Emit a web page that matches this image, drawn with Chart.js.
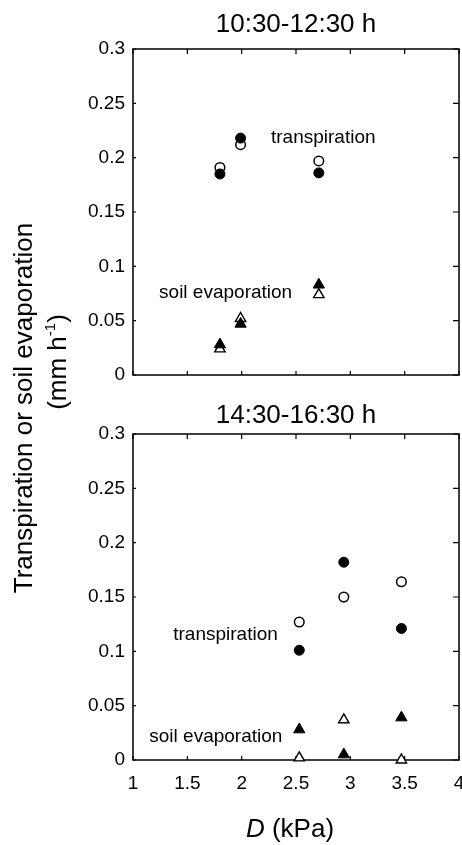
<!DOCTYPE html>
<html>
<head>
<meta charset="utf-8">
<script src="https://cdn.jsdelivr.net/npm/chart.js@4.4.0/dist/chart.umd.min.js"></script>
<style>
  body { margin: 0; background: #fff; overflow: hidden; }
  #page {
    position: relative;
    width: 462px;
    height: 845px;
    overflow: hidden;
    font-family: "Liberation Sans", Arial, sans-serif;
    color: #000;
  }
  .panel { position: absolute; left: 0; }
  .label {
    position: absolute;
    font-size: 26px;
    line-height: 1;
    white-space: nowrap;
    transform: translate(-50%, -50%);
  }
  .rot { transform: translate(-50%, -50%) rotate(-90deg); }
  sup { font-size: 15px; vertical-align: 11px; line-height: 0; }
</style>
</head>
<body>
<div id="page">
  <div class="panel" style="top: 0;"><canvas id="amChart" width="480" height="400"></canvas></div>
  <div class="panel" style="top: 400px;"><canvas id="pmChart" width="480" height="445"></canvas></div>
  <div class="label rot" style="left: 23px; top: 408px;">Transpiration or soil evaporation</div>
  <div class="label rot" style="left: 57px; top: 362px;">(mm h<sup>-1</sup>)</div>
  <div class="label" style="left: 290px; top: 828px;"><i>D</i> (kPa)</div>
</div>
<script>
// vapour pressure deficit D (kPa) of each measurement
const amD = [1.80, 1.99, 2.71];
const pmD = [2.53, 2.94, 3.47];

// 10:30-12:30 h
const amTranspFilled = [0.185, 0.218, 0.186];
const amTranspOpen = [0.191, 0.212, 0.197];
const amEvapFilled = [0.028, 0.047, 0.083];
const amEvapOpen = [0.024, 0.052, 0.074];

// 14:30-16:30 h
const pmTranspFilled = [0.101, 0.182, 0.121];
const pmTranspOpen = [0.127, 0.150, 0.164];
const pmEvapFilled = [0.028, 0.005, 0.039];
const pmEvapOpen = [0.002, 0.037, 0.000];

const xTicks = [1, 1.5, 2, 2.5, 3, 3.5, 4];
const yTicks = [0, 0.05, 0.1, 0.15, 0.2, 0.25, 0.3];

const FONT = "'Liberation Sans', Arial, sans-serif";

// box round the plot area with small inward tick marks
const frameTicks = {
  id: "frameTicks",
  beforeDatasetsDraw(chart) {
    const { ctx, chartArea: a, scales } = chart;
    ctx.save();
    ctx.strokeStyle = "#000";
    ctx.lineWidth = 1.5;
    ctx.strokeRect(a.left, a.top, a.right - a.left, a.bottom - a.top);
    ctx.lineWidth = 1.2;
    ctx.beginPath();
    xTicks.forEach((v) => {
      const px = scales.x.getPixelForValue(v);
      ctx.moveTo(px, a.bottom);
      ctx.lineTo(px, a.bottom - 4);
      ctx.moveTo(px, a.top);
      ctx.lineTo(px, a.top + 5);
    });
    yTicks.forEach((v) => {
      const py = scales.y.getPixelForValue(v);
      ctx.moveTo(a.left, py);
      ctx.lineTo(a.left + 3, py);
      ctx.moveTo(a.right, py);
      ctx.lineTo(a.right - 6, py);
    });
    ctx.stroke();
    ctx.restore();
  },
};

// "transpiration" / "soil evaporation" notes inside the plot
const notes = {
  id: "notes",
  afterDatasetsDraw(chart, args, opts) {
    const { ctx, scales } = chart;
    ctx.save();
    ctx.fillStyle = "#000";
    ctx.font = "19px " + FONT;
    ctx.textAlign = "left";
    ctx.textBaseline = "middle";
    (opts.items || []).forEach((n) => {
      ctx.fillText(n.text, scales.x.getPixelForValue(n.x), scales.y.getPixelForValue(n.y));
    });
    ctx.restore();
  },
};

function makeSets(D, tFilled, tOpen, eFilled, eOpen) {
  const pts = (ys) => D.map((x, i) => ({ x: x, y: ys[i] }));
  return [
    { data: pts(tFilled), pointStyle: "circle", pointRadius: 5, pointBackgroundColor: "#000", pointBorderColor: "#000", pointBorderWidth: 1 },
    { data: pts(eFilled), pointStyle: "triangle", pointRadius: 6.5, pointBackgroundColor: "#000", pointBorderColor: "#000", pointBorderWidth: 1 },
    { data: pts(tOpen), pointStyle: "circle", pointRadius: 4.8, pointBackgroundColor: "#fff", pointBorderColor: "#000", pointBorderWidth: 1.5 },
    { data: pts(eOpen), pointStyle: "triangle", pointRadius: 6, pointBackgroundColor: "#fff", pointBorderColor: "#000", pointBorderWidth: 1.4 },
  ].map((ds) => Object.assign(ds, { showLine: false, clip: false }));
}

function makeChart(id, title, titlePad, datasets, noteItems, showX, bottomPad) {
  const ctx = document.getElementById(id).getContext("2d");
  return new Chart(ctx, {
    type: "scatter",
    data: { datasets: datasets },
    options: {
      responsive: false,
      devicePixelRatio: 1,
      animation: false,
      events: [],
      layout: { padding: { left: 0, right: 21, top: 0, bottom: bottomPad } },
      plugins: {
        legend: { display: false },
        tooltip: { enabled: false },
        title: {
          display: true,
          text: title,
          color: "#000",
          fullSize: false,
          font: { family: FONT, size: 26, weight: "normal" },
          padding: titlePad,
        },
        notes: { items: noteItems },
      },
      scales: {
        x: {
          type: "linear",
          min: 1,
          max: 4,
          afterBuildTicks: (s) => { s.ticks = xTicks.map((v) => ({ value: v })); },
          afterFit: (s) => { if (showX) s.height = 85; },
          grid: { display: false, drawTicks: false },
          border: { display: false },
          ticks: {
            display: showX,
            color: "#000",
            padding: 12,
            maxRotation: 0,
            font: { family: FONT, size: 19 },
            callback: (v) => String(+v.toFixed(2)),
          },
        },
        y: {
          type: "linear",
          min: 0,
          max: 0.3,
          afterBuildTicks: (s) => { s.ticks = yTicks.map((v) => ({ value: v })); },
          afterFit: (s) => { s.width = 133; },
          grid: { display: false, drawTicks: false },
          border: { display: false },
          ticks: {
            color: "#000",
            padding: 8,
            font: { family: FONT, size: 19 },
            callback: (v) => String(+v.toFixed(2)),
          },
        },
      },
    },
    plugins: [frameTicks, notes],
  });
}

makeChart(
  "amChart",
  "10:30-12:30 h",
  { top: 9, bottom: 8.8 },
  makeSets(amD, amTranspFilled, amTranspOpen, amEvapFilled, amEvapOpen),
  [
    { text: "transpiration", x: 2.27, y: 0.218 },
    { text: "soil evaporation", x: 1.24, y: 0.0755 },
  ],
  false,
  25
);

makeChart(
  "pmChart",
  "14:30-16:30 h",
  { top: 0, bottom: 2.8 },
  makeSets(pmD, pmTranspFilled, pmTranspOpen, pmEvapFilled, pmEvapOpen),
  [
    { text: "transpiration", x: 1.37, y: 0.115 },
    { text: "soil evaporation", x: 1.15, y: 0.021 },
  ],
  true,
  0
);
</script>
</body>
</html>
